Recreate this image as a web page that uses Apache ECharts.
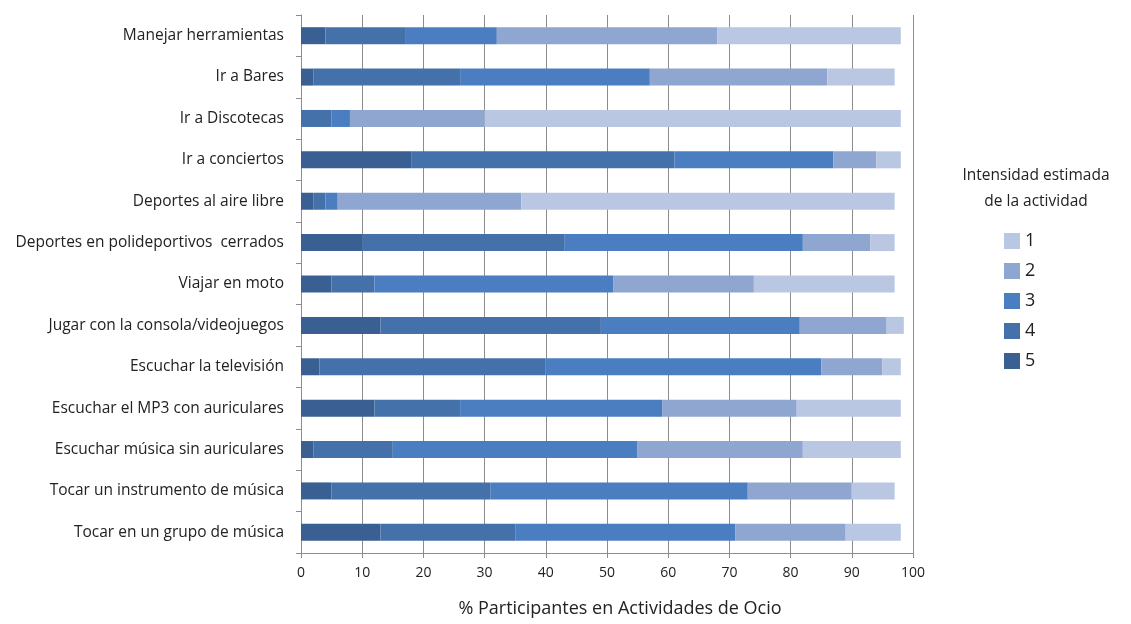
<!DOCTYPE html>
<html>
<head>
<meta charset="utf-8">
<script src="https://cdn.jsdelivr.net/npm/echarts@6/dist/echarts.min.js"></script>
<style>
  html, body { margin: 0; padding: 0; background: #fff; }
  #main { width: 1131px; height: 624px; }
</style>
</head>
<body>
<div id="main"></div>
<script>
var categories = ['Manejar herramientas', 'Ir a Bares', 'Ir a Discotecas', 'Ir a conciertos',
    'Deportes al aire libre', 'Deportes en polideportivos  cerrados', 'Viajar en moto',
    'Jugar con la consola/videojuegos', 'Escuchar la televisión', 'Escuchar el MP3 con auriculares',
    'Escuchar música sin auriculares', 'Tocar un instrumento de música', 'Tocar en un grupo de música'];

// intensidad 5 (izquierda) ... 1 (derecha)
var nivel5 = [4, 2, 0, 18, 2, 10, 5, 13, 3, 12, 2, 5, 13];
var nivel4 = [13, 24, 5, 43, 2, 33, 7, 36, 37, 14, 13, 26, 22];
var nivel3 = [15, 31, 3, 26, 2, 39, 39, 32.5, 45, 33, 40, 42, 36];
var nivel2 = [36, 29, 22, 7, 30, 11, 23, 14.2, 10, 22, 27, 17, 18];
var nivel1 = [30, 11, 68, 4, 61, 4, 23, 2.8, 3, 17, 16, 7, 9];

var xTicks = [0, 10, 20, 30, 40, 50, 60, 70, 80, 90, 100];

var colores = {
    '5': '#3a5f93',
    '4': '#4471aa',
    '3': '#4a7ec0',
    '2': '#8fa6d0',
    '1': '#b9c7e2'
};

var fuente = 'Open Sans';

function serie(name, data) {
    return {
        name: name,
        type: 'bar',
        stack: 'total',
        barWidth: 17,
        itemStyle: { color: colores[name] },
        emphasis: { disabled: true },
        data: data
    };
}

var myChart = echarts.init(document.getElementById('main'));
var option = {
    animation: false,
    textStyle: { fontFamily: fuente },
    grid: { left: 301, right: 218, top: 15, bottom: 71 },
    title: {
        text: 'Intensidad estimada\nde la actividad',
        left: 1031,
        top: 158,
        textAlign: 'center',
        textStyle: { fontFamily: fuente, fontSize: 15.5, fontWeight: 'normal', color: '#222', lineHeight: 26 }
    },
    legend: {
        data: ['1', '2', '3', '4', '5'],
        orient: 'vertical',
        left: 999,
        top: 227,
        itemWidth: 16,
        itemHeight: 16,
        itemGap: 12,
        icon: 'rect',
        textStyle: { fontFamily: fuente, fontSize: 18, color: '#222' }
    },
    xAxis: {
        type: 'value',
        min: 0,
        max: 100,
        interval: 10,
        name: '% Participantes en Actividades de Ocio',
        nameLocation: 'middle',
        nameGap: 47,
        nameTextStyle: { fontFamily: fuente, fontSize: 18, color: '#222', padding: [0, 0, 0, 26] },
        axisLine: { show: true, lineStyle: { color: '#8c8c8c' } },
        axisTick: { show: true, length: 5, lineStyle: { color: '#8c8c8c' } },
        axisLabel: {
            fontSize: 14, color: '#222', margin: 13,
            formatter: function (v) { return xTicks.indexOf(v) >= 0 ? String(v) : ''; }
        },
        splitLine: { show: true, lineStyle: { color: '#8c8c8c', width: 1 } }
    },
    yAxis: {
        type: 'category',
        inverse: true,
        data: categories,
        axisLine: { show: true, lineStyle: { color: '#8c8c8c' } },
        axisTick: { show: true, length: 5, lineStyle: { color: '#8c8c8c' } },
        axisLabel: { fontSize: 15.5, color: '#222', margin: 17 }
    },
    series: [
        serie('5', nivel5),
        serie('4', nivel4),
        serie('3', nivel3),
        serie('2', nivel2),
        serie('1', nivel1)
    ]
};
myChart.setOption(option);
</script>
</body>
</html>
